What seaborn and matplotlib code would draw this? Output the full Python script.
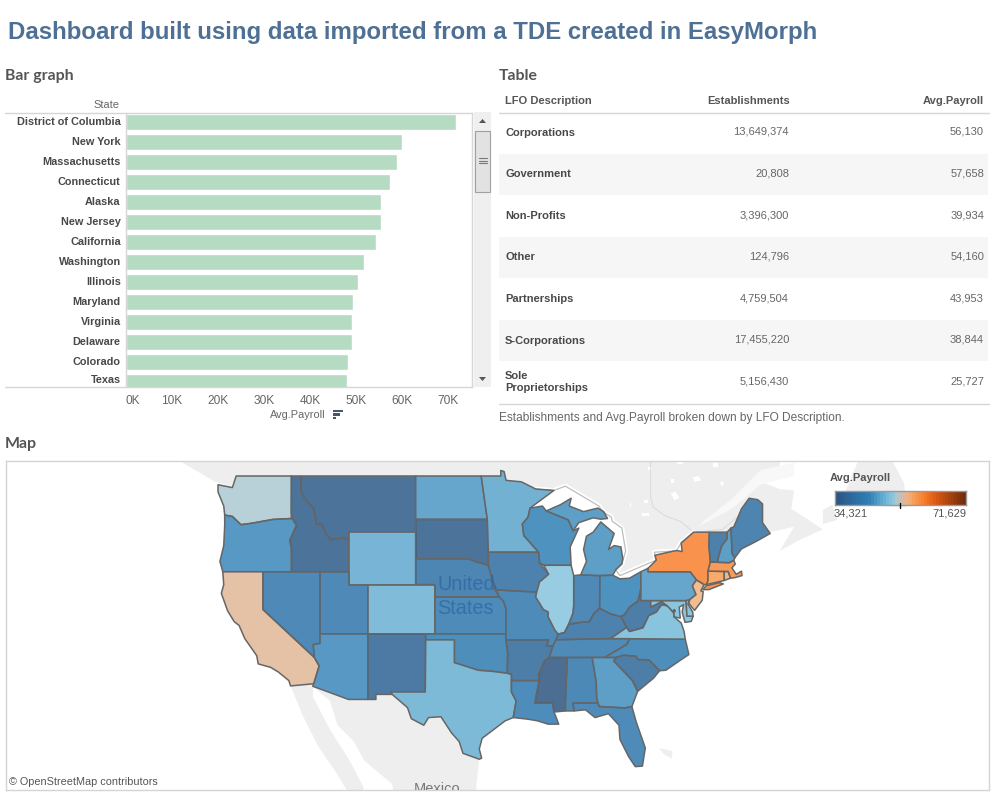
import matplotlib
matplotlib.use("Agg")

import matplotlib.pyplot as plt
from matplotlib.collections import PolyCollection
from matplotlib.colors import LinearSegmentedColormap, Normalize
from matplotlib.patches import Rectangle
import numpy as np
import pandas as pd
import seaborn as sns

BAR_STATES = ["District of Columbia", "New York", "Massachusetts", "Connecticut", "Alaska", "New Jersey",
              "California", "Washington", "Illinois", "Maryland", "Virginia", "Delaware", "Colorado", "Texas"]
BAR_PAYROLL = [71629, 59900, 58900, 57300, 55400, 55400, 54300, 51700, 50400, 49300, 49100, 49100, 48200, 48000]

LFO_NAMES = ["Corporations", "Government", "Non-Profits", "Other", "Partnerships", "S-Corporations", "Sole\nProprietorships"]
LFO_ESTABLISHMENTS = ["13,649,374", "20,808", "3,396,300", "124,796", "4,759,504", "17,455,220", "5,156,430"]
LFO_PAYROLL = ["56,130", "57,658", "39,934", "54,160", "43,953", "38,844", "25,727"]

PAYROLL_MIN = 34321
PAYROLL_MAX = 71629
MAP_CODES = ["WA", "OR", "CA", "NV", "ID", "MT", "WY", "UT", "CO", "AZ", "NM", "ND", "SD", "NE", "KS", "OK", "TX",
             "MN", "IA", "MO", "AR", "LA", "WI", "IL", "IN", "MI", "OH", "KY", "TN", "MS", "AL", "GA", "FL", "SC",
             "NC", "VA", "WV", "MD", "DE", "DC", "PA", "NJ", "NY", "CT", "RI", "MA", "VT", "NH", "ME"]
MAP_PAYROLL = [51700, 44400, 54300, 41400, 35400, 35400, 47400, 41400, 48200, 44400, 37300, 45900, 35400, 40300, 41800,
               42500, 48000, 47000, 39200, 41800, 38000, 42200, 43600, 50400, 41400, 45100, 43600, 39200, 41800,
               34321, 41000, 45100, 41800, 38000, 42500, 49100, 38000, 49300, 49100, 71629, 45900, 55400, 59900,
               57300, 56000, 58900, 38800, 45100, 39500]

# state outlines, lon/lat, rough reading of the borders
WA = [(-124.7, 48.4), (-123.2, 48.2), (-122.8, 49), (-117.03, 49), (-117.04, 46), (-119, 45.93), (-121.2, 45.65),
      (-122.3, 45.55), (-123.2, 46.15), (-124, 46.25), (-124.1, 46.9), (-124.7, 47.9)]
OR = [(-124, 46.25), (-123.2, 46.15), (-122.3, 45.55), (-121.2, 45.65), (-119, 45.93), (-117.04, 46), (-116.9, 45.95),
      (-116.5, 45.5), (-117.2, 44.4), (-117.03, 43.8), (-117.03, 42), (-124.2, 42), (-124.5, 42.8), (-124.1, 44), (-124, 45.5)]
CA = [(-124.2, 42), (-120, 42), (-120, 39), (-114.63, 35), (-114.13, 34.27), (-114.7, 32.72), (-117.12, 32.53), (-117.3, 33),
      (-118.4, 33.75), (-119.2, 34.15), (-120.5, 34.45), (-120.65, 35.15), (-121.9, 36.6), (-122.5, 37.7), (-123, 38),
      (-123.7, 38.9), (-124.35, 40.3), (-124.1, 41)]
NV = [(-120, 42), (-114.04, 42), (-114.04, 36.2), (-114.75, 36.1), (-114.63, 35), (-120, 39)]
ID = [(-117.03, 49), (-116.05, 49), (-116.05, 48), (-115.7, 47.45), (-114.7, 46.7), (-114.4, 45.55), (-113.9, 45.6),
      (-113.45, 44.95), (-113, 44.45), (-111.5, 44.55), (-111.05, 44.48), (-111.05, 42), (-117.03, 42), (-117.03, 43.8),
      (-117.2, 44.4), (-116.5, 45.5), (-116.9, 45.95), (-117.04, 46.4)]
MT = [(-116.05, 49), (-104.05, 49), (-104.05, 45), (-111.05, 45), (-111.05, 44.48), (-111.5, 44.55), (-113, 44.45),
      (-113.45, 44.95), (-113.9, 45.6), (-114.4, 45.55), (-114.7, 46.7), (-115.7, 47.45), (-116.05, 48)]
WY = [(-111.05, 45), (-104.05, 45), (-104.05, 41), (-111.05, 41)]
UT = [(-114.04, 42), (-111.05, 42), (-111.05, 41), (-109.05, 41), (-109.05, 37), (-114.04, 37)]
CO = [(-109.05, 41), (-102.05, 41), (-102.05, 37), (-109.05, 37)]
AZ = [(-114.04, 37), (-109.05, 37), (-109.05, 31.33), (-111.07, 31.33), (-114.8, 32.5), (-114.7, 32.72), (-114.13, 34.27),
      (-114.63, 35), (-114.75, 36.1), (-114.04, 36.2)]
NM = [(-109.05, 37), (-103, 37), (-103.04, 32), (-106.6, 32), (-106.5, 31.78), (-108.2, 31.78), (-108.2, 31.33), (-109.05, 31.33)]
ND = [(-104.05, 49), (-97.2, 49), (-96.56, 45.94), (-104.05, 45.94)]
SD = [(-104.05, 45.94), (-96.56, 45.94), (-96.45, 43.5), (-96.45, 42.5), (-97.9, 42.8), (-98.5, 43), (-104.05, 43)]
NE = [(-104.05, 43), (-98.5, 43), (-97.9, 42.8), (-96.45, 42.5), (-96.1, 41.5), (-95.3, 40), (-102.05, 40), (-102.05, 41), (-104.05, 41)]
KS = [(-102.05, 40), (-95.3, 40), (-94.9, 39.7), (-94.62, 39.1), (-94.62, 37), (-102.05, 37)]
OK = [(-103, 37), (-94.62, 37), (-94.62, 36.5), (-94.43, 35.4), (-94.48, 33.64), (-96, 33.8), (-97.5, 33.9), (-100, 34.56),
      (-100, 36.5), (-103, 36.5)]
TX = [(-106.6, 32), (-103.04, 32), (-103, 36.5), (-100, 36.5), (-100, 34.56), (-97.5, 33.9), (-96, 33.8), (-94.48, 33.64),
      (-94.04, 33.55), (-94.04, 32), (-93.55, 31.2), (-93.85, 29.7), (-94.7, 29.4), (-95.9, 28.6), (-97.1, 27.8), (-97.4, 26.8),
      (-97.15, 25.95), (-97.4, 25.85), (-99.1, 26.4), (-99.5, 27.5), (-100.3, 28.3), (-101.4, 29.77), (-102.7, 29.7), (-103.2, 29),
      (-104.5, 29.6), (-104.9, 30.6), (-106.5, 31.78)]
MN = [(-97.2, 49), (-95.15, 49), (-95.15, 49.38), (-94.8, 49.3), (-94.6, 48.7), (-93, 48.6), (-91.5, 48.1), (-89.6, 48),
      (-92.1, 46.75), (-92.3, 46.1), (-92.9, 45.6), (-92.75, 44.75), (-91.2, 43.5), (-96.45, 43.5), (-96.56, 45.94)]
IA = [(-96.45, 43.5), (-91.2, 43.5), (-91.1, 42.7), (-90.15, 41.8), (-91.1, 41.2), (-91.4, 40.4), (-95.75, 40.58), (-96.1, 41.5), (-96.45, 42.5)]
MO = [(-95.75, 40.58), (-91.4, 40.4), (-91.5, 40), (-90.7, 39), (-90.2, 38.8), (-90.2, 38.4), (-89.5, 37.3), (-89.15, 36.98),
      (-89.4, 36.5), (-89.7, 36), (-90.37, 36), (-90.15, 36.5), (-94.62, 36.5), (-94.62, 39.1), (-94.9, 39.7), (-95.3, 40)]
AR = [(-94.62, 36.5), (-90.15, 36.5), (-90.37, 36), (-89.7, 36), (-90.1, 35), (-90.6, 34.7), (-91.2, 33.5), (-91.15, 33),
      (-94.04, 33), (-94.04, 33.55), (-94.48, 33.64), (-94.43, 35.4)]
LA = [(-94.04, 33), (-91.15, 33), (-91.6, 31), (-89.75, 31), (-89.6, 30.2), (-89.4, 29.8), (-89.1, 29.1), (-90.2, 29.1),
      (-91.3, 29.4), (-92.3, 29.55), (-93.85, 29.7), (-93.55, 31.2), (-94.04, 32)]
WI = [(-92.1, 46.75), (-90.8, 46.9), (-90.4, 46.55), (-88.1, 45.9), (-87.6, 45.1), (-87, 45.3), (-87.9, 43.9), (-87.8, 42.5),
      (-90.65, 42.5), (-91.1, 42.7), (-91.2, 43.5), (-92.75, 44.75), (-92.9, 45.6), (-92.3, 46.1)]
IL = [(-90.65, 42.5), (-87.8, 42.5), (-87.53, 41.7), (-87.53, 39.3), (-87.6, 38.7), (-88.05, 37.8), (-88.5, 37.1), (-89.15, 36.98),
      (-89.5, 37.3), (-90.2, 38.4), (-90.2, 38.8), (-90.7, 39), (-91.5, 40), (-91.4, 40.4), (-91.1, 41.2), (-90.15, 41.8)]
IN = [(-87.53, 41.7), (-86.8, 41.76), (-84.8, 41.7), (-84.82, 39.1), (-85.4, 38.7), (-85.9, 38), (-86.8, 37.95), (-88.05, 37.8),
      (-87.6, 38.7), (-87.53, 39.3)]
MI = [(-86.8, 41.76), (-84.8, 41.7), (-83.45, 41.73), (-83.1, 42.2), (-82.5, 42.6), (-82.4, 43), (-82.6, 43.9), (-83.3, 44),
      (-83.9, 43.7), (-83.3, 44.9), (-84.7, 45.75), (-85.5, 45), (-86.2, 44.7), (-86.5, 43.7), (-86.2, 42.8)]
MI_UPPER = [(-90.4, 46.55), (-88.1, 45.9), (-87.6, 45.1), (-87, 45.7), (-85.5, 46.05), (-84.7, 45.95), (-84, 46), (-84.4, 46.5),
            (-85, 46.75), (-86.5, 46.5), (-88, 46.9), (-87.8, 47.45), (-88.9, 47)]
OH = [(-84.8, 41.7), (-83.45, 41.73), (-82.7, 41.45), (-81.7, 41.5), (-80.52, 42), (-80.52, 40.64), (-80.8, 39.7), (-81.7, 39.2),
      (-82.2, 38.6), (-82.6, 38.42), (-83.7, 38.65), (-84.82, 39.1)]
KY = [(-89.4, 36.5), (-89.15, 36.98), (-88.5, 37.1), (-88.05, 37.8), (-86.8, 37.95), (-85.9, 38), (-85.4, 38.7), (-84.82, 39.1),
      (-83.7, 38.65), (-82.6, 38.42), (-82, 37.53), (-83.68, 36.6)]
TN = [(-90.1, 35), (-89.7, 36), (-89.4, 36.5), (-83.68, 36.6), (-81.68, 36.59), (-82, 36.1), (-84.3, 35), (-85.6, 35), (-88.2, 35)]
MS = [(-90.1, 35), (-88.2, 35), (-88.4, 31), (-88.4, 30.3), (-89.6, 30.2), (-89.75, 31), (-91.6, 31), (-91.15, 33), (-91.2, 33.5), (-90.6, 34.7)]
AL = [(-88.2, 35), (-85.6, 35), (-85.18, 32.87), (-85.13, 31.5), (-85, 31), (-87.6, 31), (-87.5, 30.3), (-88.4, 30.3), (-88.4, 31)]
GA = [(-85.6, 35), (-84.3, 35), (-83.1, 35), (-83.35, 34.7), (-81.4, 33), (-80.85, 32.05), (-81.45, 30.7), (-82.2, 30.57),
      (-84.86, 30.7), (-85, 31), (-85.13, 31.5), (-85.18, 32.87)]
FL = [(-87.6, 31), (-85, 31), (-84.86, 30.7), (-82.2, 30.57), (-81.45, 30.7), (-81, 29.3), (-80.05, 26.9), (-80.35, 25.2),
      (-81.1, 25.15), (-81.8, 26.1), (-82.7, 27.7), (-82.8, 29), (-83.9, 30.05), (-85.3, 29.7), (-86.3, 30.4), (-87.5, 30.3)]
SC = [(-83.1, 35), (-82.3, 35.2), (-81, 35.1), (-80.8, 34.82), (-79.67, 34.8), (-78.55, 33.86), (-79.2, 33.2), (-80.85, 32.05),
      (-81.4, 33), (-83.35, 34.7)]
NC = [(-81.68, 36.59), (-75.87, 36.55), (-75.5, 35.25), (-76.5, 34.7), (-77.9, 33.9), (-78.55, 33.86), (-79.67, 34.8), (-80.8, 34.82),
      (-81, 35.1), (-82.3, 35.2), (-83.1, 35), (-84.3, 35), (-82, 36.1)]
VA = [(-83.68, 36.6), (-81.68, 36.59), (-75.87, 36.55), (-76, 37.2), (-76.3, 37.9), (-77.05, 38.4), (-77.05, 38.7), (-77.5, 39.1),
      (-77.75, 39.3), (-78.35, 39.4), (-78.9, 38.8), (-79.7, 38.5), (-80.3, 37.5), (-81.7, 37.2), (-82, 37.53)]
WV = [(-82.6, 38.42), (-82.2, 38.6), (-81.7, 39.2), (-80.8, 39.7), (-80.52, 40.64), (-80.52, 39.72), (-79.48, 39.72), (-79.48, 39.2),
      (-78.35, 39.63), (-77.75, 39.3), (-78.35, 39.4), (-78.9, 38.8), (-79.7, 38.5), (-80.3, 37.5), (-81.7, 37.2), (-82, 37.53)]
MD = [(-79.48, 39.72), (-75.79, 39.72), (-75.7, 38.46), (-75.05, 38.45), (-75.25, 38.03), (-75.9, 37.95), (-76.2, 38.8), (-76.05, 39.4),
      (-76.5, 39.2), (-76.4, 38.3), (-77.05, 38.4), (-77.05, 38.7), (-77.5, 39.1), (-77.75, 39.3), (-78.35, 39.63), (-79.48, 39.2)]
DE = [(-75.79, 39.72), (-75.4, 39.8), (-75.6, 39.45), (-75.1, 38.8), (-75.05, 38.45), (-75.7, 38.46)]
DC = [(-77.12, 38.93), (-77.04, 39), (-76.91, 38.89), (-77.04, 38.79)]
PA = [(-80.52, 42), (-79.76, 42.27), (-79.76, 42), (-75.35, 42), (-74.7, 41.36), (-75.13, 40.9), (-74.75, 40.2), (-75.4, 39.8),
      (-75.79, 39.72), (-80.52, 39.72)]
NJ = [(-74.7, 41.36), (-73.9, 41), (-74.25, 40.5), (-74, 40.45), (-74.1, 39.75), (-74.9, 38.93), (-75.5, 39.5), (-75.4, 39.8),
      (-74.75, 40.2), (-75.13, 40.9)]
NY = [(-79.76, 42.27), (-78.9, 42.9), (-79.05, 43.27), (-76.8, 43.63), (-76.2, 43.55), (-76.3, 44.2), (-75, 45), (-73.35, 45),
      (-73.4, 44), (-73.25, 42.75), (-73.5, 42.05), (-73.5, 41.3), (-73.65, 41), (-73.9, 41), (-74.7, 41.36), (-75.35, 42), (-79.76, 42)]
LONG_ISLAND = [(-74.03, 40.6), (-73.7, 40.9), (-72.3, 41.15), (-71.9, 41.05), (-73.4, 40.6)]
CT = [(-73.5, 42.05), (-71.8, 42.02), (-71.8, 41.32), (-73.65, 41), (-73.5, 41.3)]
RI = [(-71.8, 42.02), (-71.38, 42.02), (-71.15, 41.5), (-71.8, 41.32)]
MA = [(-73.5, 42.05), (-73.25, 42.75), (-71.3, 42.7), (-70.8, 42.87), (-70.65, 42.6), (-71, 42.3), (-70.55, 41.8), (-70, 42.05),
      (-69.95, 41.7), (-70.65, 41.55), (-71.15, 41.5), (-71.38, 42.02)]
VT = [(-73.35, 45), (-71.5, 45), (-71.5, 44.5), (-72.05, 44), (-72.45, 43), (-72.46, 42.73), (-73.25, 42.75), (-73.4, 44)]
NH = [(-71.5, 45), (-71.1, 45.3), (-70.98, 43.4), (-70.7, 43.07), (-70.8, 42.87), (-71.3, 42.7), (-72.46, 42.73), (-72.45, 43),
      (-72.05, 44), (-71.5, 44.5)]
ME = [(-71.1, 45.3), (-70.8, 45.4), (-70.3, 46.2), (-70, 46.7), (-69.2, 47.45), (-68.3, 47.35), (-67.8, 47.05), (-67.8, 45.7),
      (-67, 44.9), (-68.5, 44.3), (-70, 43.75), (-70.7, 43.07), (-70.98, 43.4)]

STATE_PARTS = {"MI": [MI, MI_UPPER], "NY": [NY, LONG_ISLAND]}
STATE_SHAPES = dict(WA=WA, OR=OR, CA=CA, NV=NV, ID=ID, MT=MT, WY=WY, UT=UT, CO=CO, AZ=AZ, NM=NM, ND=ND, SD=SD, NE=NE, KS=KS, OK=OK,
                    TX=TX, MN=MN, IA=IA, MO=MO, AR=AR, LA=LA, WI=WI, IL=IL, IN=IN, OH=OH, KY=KY, TN=TN, MS=MS, AL=AL, GA=GA, FL=FL,
                    SC=SC, NC=NC, VA=VA, WV=WV, MD=MD, DE=DE, DC=DC, PA=PA, NJ=NJ, CT=CT, RI=RI, MA=MA, VT=VT, NH=NH, ME=ME)

# background land
CANADA = [(-130, 53), (-130, 50.5), (-125, 48.6), (-123.3, 48.3), (-122.8, 49), (-95.15, 49), (-94.6, 48.7), (-93, 48.6), (-91.5, 48.1),
          (-89.6, 48), (-88.4, 48.3), (-84.9, 46.9), (-84.5, 46.5), (-83.6, 46.1), (-83.5, 45.8), (-82.5, 45.3), (-82.1, 43.6), (-82.5, 42.6),
          (-83.1, 42.1), (-82.7, 41.7), (-78.9, 42.9), (-79.1, 43.5), (-76.8, 43.6), (-76.3, 44.2), (-75, 45), (-71.5, 45), (-70.8, 45.4),
          (-70.3, 46.2), (-70, 46.7), (-69.2, 47.45), (-68.3, 47.35), (-67.8, 47.05), (-67.8, 45.7), (-67, 45), (-64.5, 45.4), (-66, 43.6),
          (-64, 44.4), (-61.5, 45.2), (-63, 45.9), (-64.8, 46.7), (-64.5, 48), (-66, 48.1), (-68, 48.6), (-71, 46.9), (-69, 48.6), (-66, 49.3),
          (-66, 50.2), (-60, 50.3), (-57, 52), (-57, 53)]
NEWFOUNDLAND = [(-59.3, 47.7), (-55.5, 46.9), (-52.8, 46.8), (-53, 48.5), (-55.5, 51.5), (-57.5, 50.5)]
NOVA_CAPE = [(-61.5, 45.6), (-60, 45.9), (-60.5, 47), (-61.5, 46.6)]
MEXICO = [(-114.8, 32.5), (-111.07, 31.33), (-108.2, 31.33), (-108.2, 31.78), (-106.5, 31.78), (-104.9, 30.6), (-104.5, 29.6), (-103.2, 29),
          (-102.7, 29.7), (-101.4, 29.77), (-100.3, 28.3), (-99.5, 27.5), (-99.1, 26.4), (-97.4, 25.85), (-97.7, 23.5), (-97.7, 21), (-106, 21),
          (-106.5, 23.5), (-109.4, 25.7), (-110.5, 27.5), (-112.2, 29), (-113, 31.2)]
BAJA = [(-117.12, 32.53), (-114.7, 32.72), (-114.8, 31.6), (-113, 28.6), (-111, 25.8), (-109.5, 23.2), (-110, 21), (-112.5, 24.8), (-114.2, 27),
        (-115.8, 29.8)]
BAHAMAS = [(-78.6, 26.9), (-77.2, 26.6), (-77.3, 25.9), (-78.1, 26.3)]
ST_LAWRENCE = [(-74.5, 45.4), (-71, 46.7), (-68, 48.4), (-64.5, 49), (-64.5, 49.9), (-68, 49.4), (-71, 47.4), (-74, 45.8)]
CANADA_LAKES = [[(-77.4, 47.8), (-76.9, 47.9), (-76.5, 47.5), (-77, 47.3)], [(-75.1, 48.9), (-74.5, 49), (-74.2, 48.7), (-74.9, 48.6)],
                [(-72.2, 48.6), (-71.9, 48.6), (-71.9, 48.3), (-72.2, 48.4)], [(-81.7, 47.1), (-81.5, 47.1), (-81.5, 46.8), (-81.7, 46.8)],
                [(-80.2, 47.3), (-79.8, 47.3), (-79.8, 47.1), (-80.2, 47.1)], [(-80.4, 46.4), (-79.7, 46.4), (-79.7, 46.2), (-80.4, 46.2)],
                [(-77.4, 48.8), (-77.1, 48.8), (-77.1, 48.5), (-77.4, 48.5)], [(-76.7, 50.1), (-76.1, 50.1), (-76.1, 49.8), (-76.7, 49.8)],
                [(-79.8, 49.6), (-79.3, 49.6), (-79.3, 49.4), (-79.8, 49.4)], [(-73, 49.9), (-72.5, 49.9), (-72.5, 49.6), (-73, 49.6)]]
LAKE_BORDER = [(-91.5, 48.1), (-89.6, 48), (-88.4, 48.3), (-84.9, 46.9), (-84.5, 46.5), (-83.6, 46.1), (-83.5, 45.8), (-82.5, 45.3), (-82.1, 43.6),
               (-82.5, 42.6), (-83.1, 42.1), (-82.7, 41.7), (-78.9, 42.9), (-79.1, 43.5), (-76.8, 43.6), (-76.3, 44.2), (-75, 45)]
PROVINCE_LINE = [(-79.5, 52), (-79.5, 47.5), (-79.2, 46.8), (-78, 46.2), (-76.4, 45.8), (-75, 45)]
QUEBEC_LINE = [(-75, 45), (-72, 45.2), (-70.3, 46.2)]

LEGEND_STOPS = [(0.0, "#2c5580"), (0.12, "#2e6b9f"), (0.25, "#2f7fb5"), (0.40, "#77bcdb"), (0.43, "#85c4dd"), (0.466, "#abc8d2"),
                (0.535, "#e0b799"), (0.565, "#f0b27e"), (0.616, "#f89a50"), (0.686, "#f87f2d"), (0.78, "#dc5a12"), (1.0, "#722d0d")]

W, H = 997, 798
TEXT_DARK = "#555555"
LINE = "#d6d6d6"
MAP_ALPHA = 0.85


def merc(lat):
    return np.degrees(np.log(np.tan(np.pi / 4 + np.radians(lat) / 2)))


def project(points):
    pts = np.array(points, dtype=float)
    return np.column_stack([pts[:, 0], merc(pts[:, 1])])


def pixel_axes(fig, x0, y0, x1, y1):
    return fig.add_axes([x0 / W, 1 - y1 / H, (x1 - x0) / W, (y1 - y0) / H])


def draw_page(canvas):
    canvas.set_xlim(0, W)
    canvas.set_ylim(H, 0)
    canvas.axis("off")
    canvas.text(8, 32, "Dashboard built using data imported from a TDE created in EasyMorph", fontsize=17.28,
                fontweight="bold", color="#4e7094", va="center", family="Liberation Sans")
    for x, y, label in [(5, 76, "Bar graph"), (499, 76, "Table"), (5, 444, "Map")]:
        canvas.text(x, y, label, fontsize=11.4, fontweight="bold", color=TEXT_DARK, va="center", family="Lato")


def draw_bars(fig, canvas):
    df = pd.DataFrame({"State": BAR_STATES, "Avg.Payroll": BAR_PAYROLL})
    ax = pixel_axes(fig, 125.5, 112.5, 472, 386.7)
    sns.barplot(data=df, x="Avg.Payroll", y="State", color="#b5dcc2", saturation=1, width=0.8, ax=ax)
    ax.set_xlim(0, 75150)
    ax.set_ylim(13.235, -0.5)
    ax.set_xlabel("")
    ax.set_ylabel("")
    ax.set_xticks(range(0, 80000, 10000))
    ax.set_xticklabels([f"{v}K" for v in range(0, 80, 10)], fontsize=8.6, color="#666666", family="Liberation Sans")
    ax.get_xticklabels()[0].set_ha("left")
    ax.get_xticklabels()[0].set_x(400)
    ax.tick_params(axis="x", length=4, color=LINE, pad=2)
    ax.tick_params(axis="y", length=0, pad=3.5)
    ax.set_yticks([i - 0.05 for i in range(13)] + [12.84])
    ax.set_yticklabels(BAR_STATES, fontsize=7.85, fontweight="bold", color="#484848", family="Liberation Sans")
    for side in ax.spines.values():
        side.set_color(LINE)
        side.set_linewidth(1)

    canvas.plot([5, 125], [112.5, 112.5], color=LINE, lw=1)
    canvas.plot([5, 125], [386.7, 386.7], color=LINE, lw=1)
    canvas.text(119, 105, "State", ha="right", va="center", fontsize=7.9, color="#666666", family="Liberation Sans")
    canvas.text(298, 415, "Avg.Payroll", ha="center", va="center", fontsize=7.9, color="#666666", family="Liberation Sans")
    for y, x1 in [(411, 343), (414.5, 340), (418, 336)]:
        canvas.add_patch(Rectangle((333, y - 1.2), x1 - 333, 2.6, color="#47566f", lw=0))

    # scrollbar
    canvas.add_patch(Rectangle((474, 112), 17, 275, color="#efefef", lw=0))
    canvas.add_patch(Rectangle((475, 130.5), 15, 61, facecolor="#e2e2e2", edgecolor="#a0a0a0", lw=0.8))
    for y in [158, 160.5, 163]:
        canvas.plot([478.5, 486.5], [y, y], color="#777777", lw=0.8)
    canvas.fill([479, 486, 482.5], [123, 123, 119], color="#555555", lw=0)
    canvas.fill([479, 486, 482.5], [377, 377, 381], color="#555555", lw=0)


def draw_table(canvas):
    font = dict(family="Liberation Sans", va="center")
    for y in [154, 237, 320]:
        canvas.add_patch(Rectangle((499, y), 489, 41.3, color="#f6f6f6", lw=0))
    canvas.plot([499, 989], [112.5, 112.5], color=LINE, lw=1)
    canvas.plot([499, 989], [403.5, 403.5], color=LINE, lw=1)
    head = dict(fontsize=8, fontweight="bold", color=TEXT_DARK, **font)
    canvas.text(505, 101, "LFO Description", **head)
    canvas.text(790, 101, "Establishments", ha="right", **head)
    canvas.text(984, 101, "Avg.Payroll", ha="right", **head)
    for i, (name, est, pay) in enumerate(zip(LFO_NAMES, LFO_ESTABLISHMENTS, LFO_PAYROLL)):
        y = 132 + i * 41.6
        canvas.text(505, y + 0.5, name, fontsize=8, fontweight="bold", color="#484848", linespacing=1.2, **font)
        canvas.text(789, y, est, ha="right", fontsize=8, color="#666666", **font)
        canvas.text(984, y, pay, ha="right", fontsize=8, color="#666666", **font)
    canvas.text(499, 417.5, "Establishments and Avg.Payroll broken down by LFO Description.", fontsize=8.58, color="#666666", **font)


def draw_map(fig):
    ax = pixel_axes(fig, 5.5, 461, 988.5, 790)
    px_per_deg = 9.57
    ax.set_xlim(-124.7 + (5.5 - 218) / px_per_deg, -124.7 + (988.5 - 218) / px_per_deg)
    top = merc(49) + (476 - 461) / px_per_deg
    ax.set_ylim(merc(49) - (790 - 476) / px_per_deg, top)
    ax.set_xticks([])
    ax.set_yticks([])
    for side in ax.spines.values():
        side.set_color("#d4d4d4")
        side.set_linewidth(1)

    land = [CANADA, NEWFOUNDLAND, NOVA_CAPE, MEXICO, BAJA, BAHAMAS]
    ax.add_collection(PolyCollection([project(p) for p in land], facecolor="#eeeeee", edgecolor="none", zorder=1))
    ax.add_collection(PolyCollection([project(ST_LAWRENCE)], facecolor="#f8f8f8", edgecolor="none", zorder=1.05))
    ax.add_collection(PolyCollection([project(p) for p in CANADA_LAKES], facecolor="white", edgecolor="none", zorder=1.1))
    for line in [PROVINCE_LINE, QUEBEC_LINE]:
        pts = project(line)
        ax.plot(pts[:, 0], pts[:, 1], color="#dcdcdc", lw=0.8, zorder=1.15)
    border = project(LAKE_BORDER)
    ax.plot(border[:, 0], border[:, 1], color="white", lw=3.5, zorder=1.2)
    ax.plot(border[:, 0], border[:, 1], color="#bdbdbd", lw=0.9, zorder=1.3)

    cmap = LinearSegmentedColormap.from_list("orange_blue", LEGEND_STOPS, N=256)
    norm = Normalize(PAYROLL_MIN, PAYROLL_MAX)
    polys, values = [], []
    for code, value in zip(MAP_CODES, MAP_PAYROLL):
        for part in STATE_PARTS.get(code, [STATE_SHAPES.get(code)]):
            polys.append(project(part))
            values.append(value)
    colors = [(*cmap(norm(v))[:3], MAP_ALPHA) for v in values]
    ax.add_collection(PolyCollection(polys, facecolor=colors, edgecolor="#666666", linewidth=1.1, zorder=2))

    for lat, label in [(41.0, "United"), (39.1, "States")]:
        ax.text(-98.8, merc(lat), label, ha="center", va="center", fontsize=14.3, color="#1f5c9e", alpha=0.55,
                family="Liberation Sans", zorder=3)
    ax.text(-101.8, merc(23.05), "Mexico", ha="center", va="center", fontsize=10.5, color="#777777",
            family="Liberation Sans", zorder=3, clip_on=True)
    ax.text(0.004, 0.025, "© OpenStreetMap contributors", transform=ax.transAxes, fontsize=7.8, color="#555555",
            va="center", family="Liberation Sans", zorder=4)
    return cmap


def draw_legend(fig, canvas, cmap):
    canvas.text(830, 478, "Avg.Payroll", fontsize=8, fontweight="bold", color=TEXT_DARK, va="center", family="Liberation Sans")
    canvas.text(834, 514, f"{PAYROLL_MIN:,}", fontsize=8, color=TEXT_DARK, va="center", family="Liberation Sans")
    canvas.text(966, 514, f"{PAYROLL_MAX:,}", fontsize=8, color=TEXT_DARK, va="center", ha="right", family="Liberation Sans")
    bar = pixel_axes(fig, 834.5, 490.5, 965.5, 505)
    bar.imshow(np.linspace(0, 1, 44)[None, :], cmap=cmap, aspect="auto", vmin=0, vmax=1, interpolation="nearest")
    bar.set_xticks([])
    bar.set_yticks([])
    for side in bar.spines.values():
        side.set_color("#999999")
        side.set_linewidth(1)
    canvas.plot([900, 900], [503, 507.5], color="black", lw=1, zorder=10)


def main():
    sns.set_theme(style="white")
    plt.rcParams["font.family"] = ["Liberation Sans", "DejaVu Sans"]
    fig = plt.figure(figsize=(W / 100, H / 100), dpi=100, facecolor="white")
    canvas = fig.add_axes([0, 0, 1, 1], zorder=5)
    canvas.patch.set_alpha(0)
    draw_page(canvas)
    draw_bars(fig, canvas)
    draw_table(canvas)
    cmap = draw_map(fig)
    draw_legend(fig, canvas, cmap)
    canvas.set_xlim(0, W)
    canvas.set_ylim(H, 0)
    fig.savefig("out.png", dpi=100)
    plt.close(fig)


if __name__ == "__main__":
    main()
